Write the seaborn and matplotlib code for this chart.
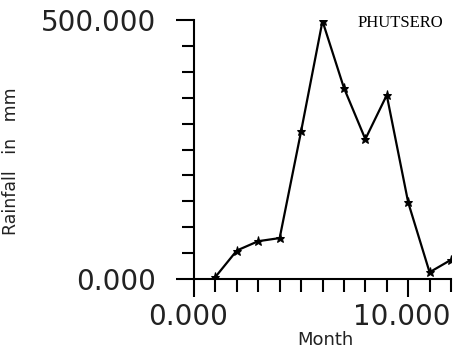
import matplotlib
matplotlib.use("Agg")
import matplotlib.pyplot as plt
import matplotlib.transforms as mtransforms
from matplotlib.ticker import MultipleLocator, FixedLocator
import seaborn as sns
import pandas as pd

# Monthly rainfall at Phutsero
months = [1, 2, 3, 4, 5, 6, 7, 8, 9, 10, 11, 12]
rainfall_mm = [4, 55, 73, 79, 285, 498, 369, 270, 355, 148, 13, 37]
station = "PHUTSERO"
x_tick_labels = ["0.000", "10.000"]
y_tick_labels = ["0.000", "500.000"]

df = pd.DataFrame({"Month": months, "Rainfall": rainfall_mm})

sns.set_style("ticks")
plt.rcParams["font.family"] = ["DejaVu Sans"]

fig = plt.figure(figsize=(4.56, 3.51), dpi=100)
ax = fig.add_axes([194 / 456, 1 - 279 / 351, 257 / 456, 259 / 351])

sns.lineplot(data=df, x="Month", y="Rainfall", ax=ax, color="black",
             linewidth=1.6, marker="*", markersize=6.5, markeredgecolor="black",
             markerfacecolor="black")

ax.set_xlim(0, 12)
ax.set_ylim(0, 500)
sns.despine(ax=ax)
for s in ("left", "bottom"):
    ax.spines[s].set_linewidth(1.5)
    ax.spines[s].set_color("black")

ax.xaxis.set_major_locator(FixedLocator([0, 10]))
ax.xaxis.set_minor_locator(MultipleLocator(1))
ax.yaxis.set_major_locator(FixedLocator([0, 500]))
ax.yaxis.set_minor_locator(MultipleLocator(50))
ax.set_xticklabels(x_tick_labels)
ax.set_yticklabels(y_tick_labels)

ax.tick_params(axis="both", which="major", length=13, width=1.5,
               color="black", labelsize=20, labelcolor="#222222")
ax.tick_params(axis="both", which="minor", length=9, width=1.5, color="black")
ax.tick_params(axis="x", which="major", pad=4)
ax.tick_params(axis="y", which="major", pad=14)

shift = mtransforms.ScaledTranslation(-6 / 100, 0, fig.dpi_scale_trans)
for lbl in ax.get_xticklabels():
    lbl.set_transform(lbl.get_transform() + shift)

ax.set_xlabel("Month", fontsize=13, color="#222222")
ax.xaxis.set_label_coords(0.51, -0.2)
ax.set_ylabel("Rainfall   in   mm", fontsize=12.5, color="#222222")
ax.yaxis.set_label_coords(-0.677, 0.454)

fig.text(358 / 456, 1 - 27 / 351, station, family="Liberation Serif",
         fontsize=12, color="black", va="baseline", ha="left")

fig.savefig("out.png", dpi=100, facecolor="white")
